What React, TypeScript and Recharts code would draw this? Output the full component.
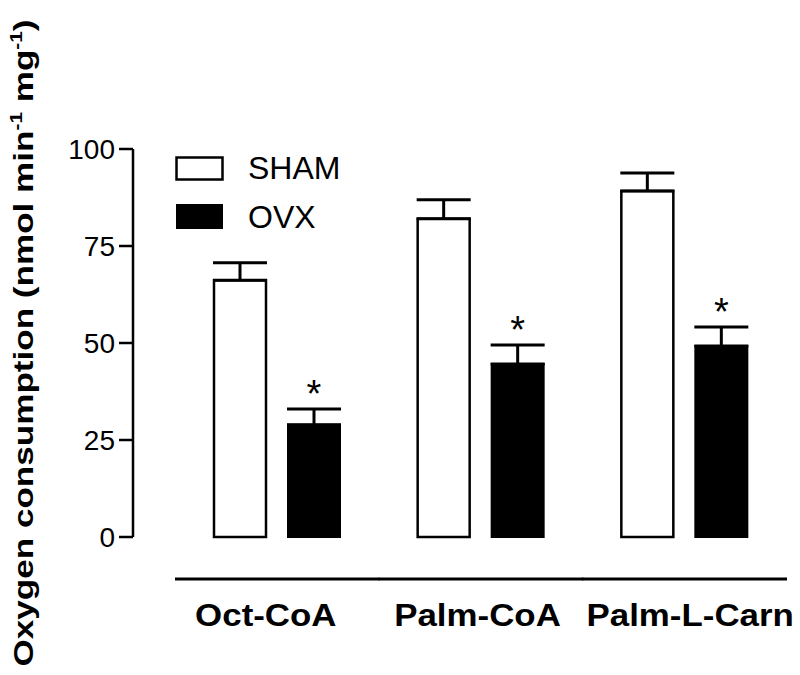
import React from 'react';
import { BarChart, Bar, XAxis, YAxis, ErrorBar, LabelList, Legend } from 'recharts';

const CATEGORIES = ['Oct-CoA', 'Palm-CoA', 'Palm-L-Carn'];
const SHAM = [66.2, 82.0, 89.2];
const SHAM_ERR = [4.5, 4.9, 4.6];
const OVX = [28.9, 44.6, 49.2];
const OVX_ERR = [4.1, 4.9, 4.9];
const Y_TICKS = [0, 25, 50, 75, 100];

const FONT = '"Liberation Sans", Arial, Helvetica, sans-serif';
const WIDTH = 800;
const HEIGHT = 675;
const MARGIN = { top: 149, right: 14, bottom: 0, left: 0 };
const Y_AXIS_W = 133;
const X_PAD = 42;
const BAND_HALF = (WIDTH - MARGIN.right - Y_AXIS_W - X_PAD) / CATEGORIES.length / 2;
// labels in the original sit slightly off the group centres
const LABEL_DX = [-11, -3, 6];

const data = CATEGORIES.map((name, i) => ({
  name,
  sham: SHAM[i],
  shamErr: [0, SHAM_ERR[i]],
  ovx: OVX[i],
  ovxErr: [0, OVX_ERR[i]],
}));

function CategoryTick(props: any) {
  const { x, y, payload, index } = props;
  const dx = LABEL_DX[index] ?? 0;
  return (
    <g>
      <line x1={x - BAND_HALF} x2={x + BAND_HALF + 1} y1={y + 42} y2={y + 42} stroke="#000" strokeWidth={3} />
      <text
        transform={`translate(${x + dx}, ${y + 89}) scale(1.09, 1)`}
        textAnchor="middle"
        fontFamily={FONT}
        fontWeight="bold"
        fontSize={32}
        fill="#000"
      >
        {payload.value}
      </text>
    </g>
  );
}

function YTitle() {
  return (
    <text
      transform="translate(33, 343) rotate(-90) scale(1.3, 1)"
      textAnchor="middle"
      fontFamily={FONT}
      fontWeight="bold"
      fontSize={27}
      fill="#000"
    >
      <tspan>Oxygen consumption (nmol min</tspan>
      <tspan fontSize={16} dy={-11}>-1</tspan>
      <tspan dy={11}> mg</tspan>
      <tspan fontSize={16} dy={-11}>-1</tspan>
      <tspan dy={11}>)</tspan>
    </text>
  );
}

function renderStar(props: any) {
  const { x, y, width, height, value, index } = props;
  const perUnit = height / value;
  const capY = y - OVX_ERR[index] * perUnit;
  return (
    <text x={x + width / 2} y={capY - 2} textAnchor="middle" fontFamily={FONT} fontSize={38} fill="#000">
      *
    </text>
  );
}

function renderLegend() {
  return (
    <svg width={200} height={90} style={{ display: 'block' }}>
      <rect x={1.5} y={9.5} width={46} height={22} fill="#fff" stroke="#000" strokeWidth={2.5} />
      <text x={73} y={31} fontFamily={FONT} fontSize={32} fill="#000">SHAM</text>
      <rect x={1} y={56} width={47} height={25} fill="#000" />
      <text x={73} y={80} fontFamily={FONT} fontSize={32} fill="#000">OVX</text>
    </svg>
  );
}

export default function App() {
  return (
    <div style={{ position: 'absolute', left: 0, top: 0, background: '#fff' }}>
      <BarChart width={WIDTH} height={HEIGHT} data={data} margin={MARGIN} barSize={52} barGap={22}>
        <XAxis
          dataKey="name"
          axisLine={false}
          tickLine={false}
          tickSize={0}
          tickMargin={0}
          height={HEIGHT - MARGIN.top - 388}
          padding={{ left: X_PAD, right: 0 }}
          tick={<CategoryTick />}
          interval={0}
        />
        <YAxis
          domain={[0, 100]}
          ticks={Y_TICKS}
          width={Y_AXIS_W}
          axisLine={{ stroke: '#000', strokeWidth: 2.5 }}
          tickLine={{ stroke: '#000', strokeWidth: 2.5 }}
          tickSize={14}
          tickMargin={4}
          tick={{ fontSize: 28, fill: '#000', fontFamily: FONT }}
          label={<YTitle />}
        />
        <Legend
          layout="vertical"
          align="center"
          verticalAlign="middle"
          content={renderLegend}
          wrapperStyle={{ position: 'absolute', left: 175, top: 148, width: 200, height: 90 }}
        />
        <Bar dataKey="sham" fill="#fff" stroke="#000" strokeWidth={2.5} isAnimationActive={false}>
          <ErrorBar dataKey="shamErr" width={27} stroke="#000" strokeWidth={3} direction="y" />
        </Bar>
        <Bar dataKey="ovx" fill="#000" stroke="#000" strokeWidth={2} isAnimationActive={false}>
          <ErrorBar dataKey="ovxErr" width={27} stroke="#000" strokeWidth={3} direction="y" />
          <LabelList dataKey="ovx" content={renderStar} />
        </Bar>
      </BarChart>
    </div>
  );
}
